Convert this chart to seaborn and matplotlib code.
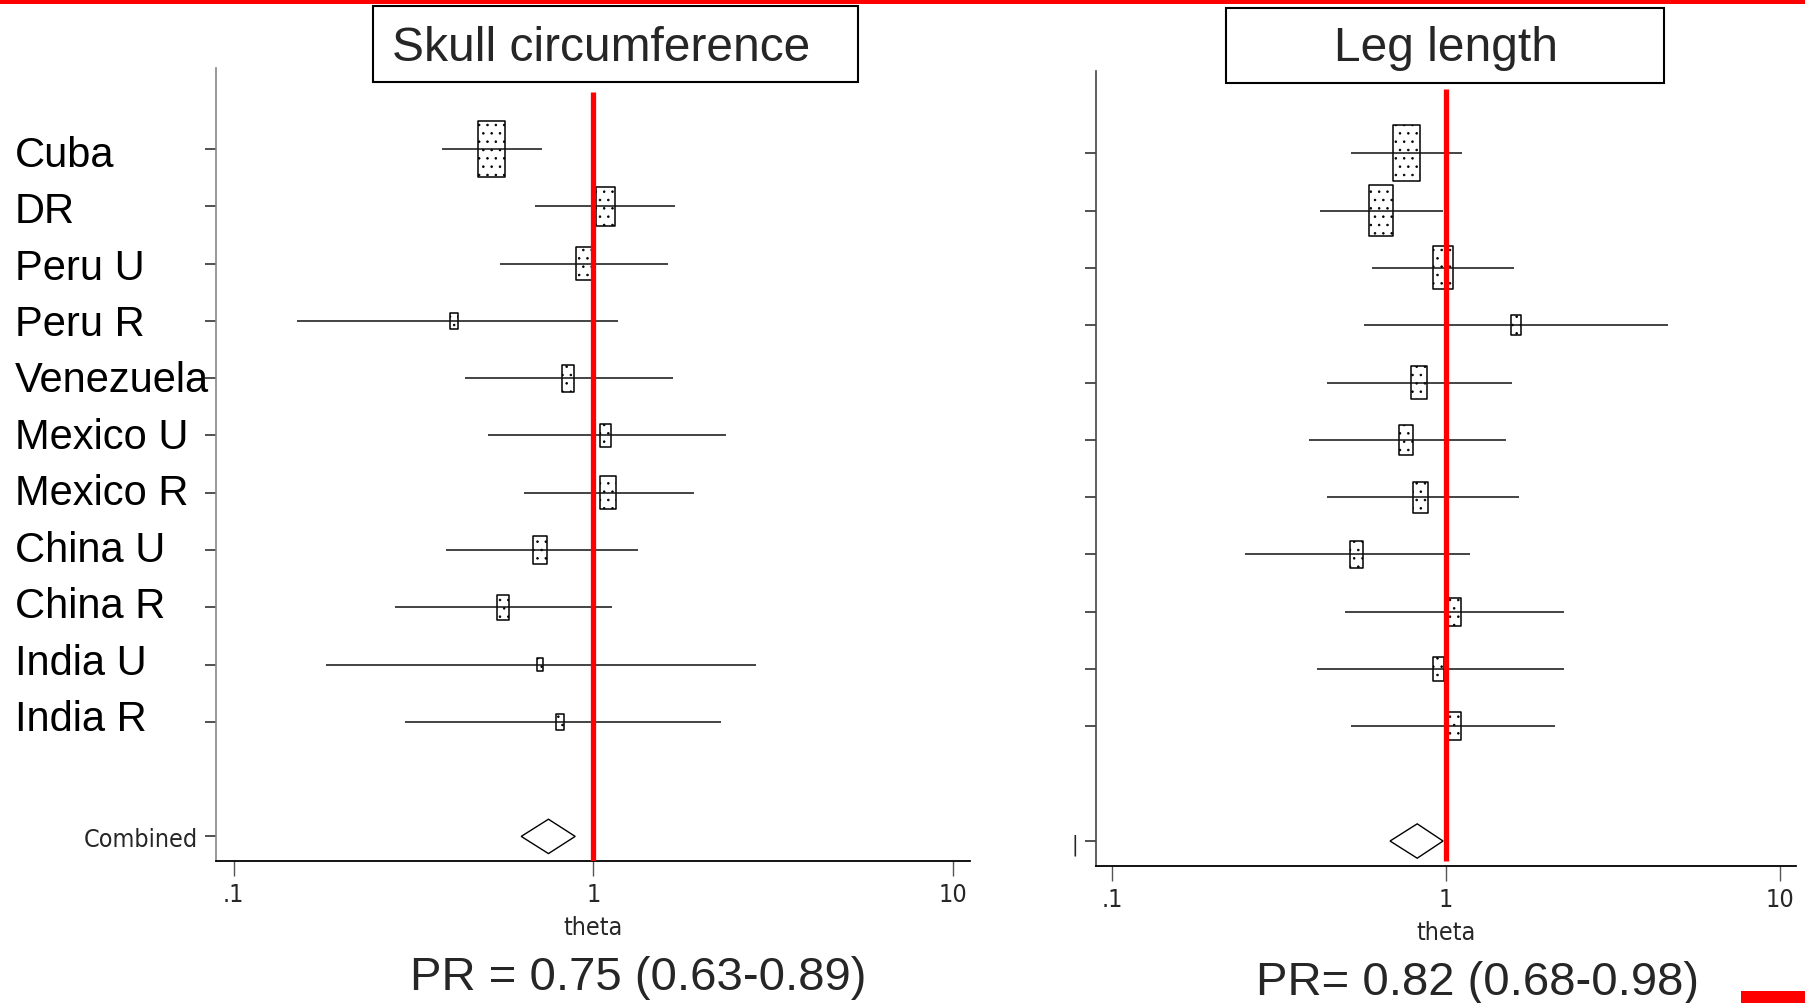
#!/usr/bin/env python
# Forest plots: skull circumference and leg length, pooled prevalence ratios

import numpy as np
import pandas as pd
import seaborn as sns
from matplotlib import pyplot as plt
from matplotlib.path import Path
from matplotlib.patches import Rectangle
import matplotlib.ticker as ticker
import matplotlib.transforms as mtransforms

# ---- data ----
studies = ["Cuba", "DR", "Peru U", "Peru R", "Venezuela", "Mexico U",
           "Mexico R", "China U", "China R", "India U", "India R"]

skull_est = [0.52, 1.08, 0.94, 0.41, 0.85, 1.08, 1.10, 0.71, 0.56, 0.71, 0.81]
skull_lo = [0.38, 0.69, 0.55, 0.15, 0.44, 0.51, 0.64, 0.39, 0.28, 0.18, 0.30]
skull_hi = [0.72, 1.69, 1.61, 1.17, 1.66, 2.34, 1.91, 1.33, 1.13, 2.83, 2.27]
skull_wt = [30.6, 15.1, 10.8, 2.6, 7.1, 5.0, 10.6, 7.8, 6.1, 1.5, 2.7]
skull_pooled = [0.75, 0.63, 0.89]

leg_est = [0.76, 0.64, 0.98, 1.62, 0.83, 0.76, 0.84, 0.54, 1.06, 0.95, 1.06]
leg_lo = [0.52, 0.42, 0.60, 0.57, 0.44, 0.39, 0.44, 0.25, 0.50, 0.41, 0.52]
leg_hi = [1.12, 0.98, 1.60, 4.63, 1.58, 1.51, 1.65, 1.18, 2.25, 2.26, 2.12]
leg_wt = [22.8, 18.7, 13.4, 2.8, 7.8, 6.7, 7.0, 5.2, 5.8, 4.3, 5.7]
leg_pooled = [0.82, 0.68, 0.98]

x_ticks = [0.1, 1, 10]
x_ticklabels = [".1", "1", "10"]

sns.set_theme(style="white")
plt.rcParams["font.family"] = ["Liberation Sans", "DejaVu Sans"]
plt.rcParams["hatch.linewidth"] = 0.6
plt.rcParams["hatch.color"] = "#222222"

# Stata's axis text is a narrow face; ask for a condensed one if present
NARROW = dict(fontfamily=["Liberation Sans Narrow", "DejaVu Sans"],
              fontstretch="condensed")

RED = "#ff0000"
COMBINED_ROW = 12

# tall rectangle marker (Stata weight boxes)
box_marker = Path([(-0.24, -0.5), (0.24, -0.5), (0.24, 0.5), (-0.24, 0.5), (-0.24, -0.5)],
                  [Path.MOVETO, Path.LINETO, Path.LINETO, Path.LINETO, Path.CLOSEPOLY])


def draw_panel(ax, est, lo, hi, wt, pooled, ylim, red_top, red_bottom, spine_col):
    df = pd.DataFrame({"row": np.arange(len(est)), "est": est, "lo": lo,
                       "hi": hi, "wt": wt})
    # box height ~40pt for the biggest weight, area proportional to weight
    sizes = 40.3 ** 2 * df["wt"] / df["wt"].max()

    sns.scatterplot(data=df, x="est", y="row", marker=box_marker, s=sizes,
                    color="white", edgecolor="black", linewidth=1.1,
                    hatch="..", legend=False, ax=ax, zorder=2)
    ax.hlines(df["row"], df["lo"], df["hi"], color="#111111", lw=1.1, zorder=3)

    p_est, p_lo, p_hi = pooled
    ax.fill([p_lo, p_est, p_hi, p_est],
            [COMBINED_ROW, COMBINED_ROW - 0.3, COMBINED_ROW, COMBINED_ROW + 0.3],
            facecolor="white", edgecolor="black", lw=1.0, zorder=3)

    ax.vlines(1, red_top, red_bottom, color=RED, lw=3.8, zorder=5)

    ax.set_xscale("log")
    ax.set_xlim(10 ** -1.048, 10 ** 1.048)
    ax.set_ylim(*ylim)
    ax.xaxis.set_minor_locator(ticker.NullLocator())
    ax.set_xticks(x_ticks)
    ax.set_xticklabels(x_ticklabels, fontsize=18, **NARROW)
    ax.set_xlabel("theta", fontsize=18, **NARROW)
    ax.xaxis.set_label_coords(0.5, -0.068)
    ax.set_ylabel("")

    ax.tick_params(axis="x", direction="out", length=11, width=1.0,
                   color="#555555", pad=4, bottom=True)
    ax.tick_params(axis="y", direction="out", length=8, width=1.2,
                   color="#333333", pad=5, left=True)

    for side in ["top", "right"]:
        ax.spines[side].set_visible(False)
    ax.spines["bottom"].set_color("black")
    ax.spines["bottom"].set_linewidth(1.3)
    ax.spines["left"].set_color(spine_col)
    ax.spines["left"].set_linewidth(1.2)


fig = plt.figure(figsize=(18.05, 10.04), dpi=100)

ax1 = fig.add_axes([0.1199, 0.1414, 0.4177, 0.7899])
ax2 = fig.add_axes([0.6072, 0.1365, 0.3878, 0.7918])

draw_panel(ax1, skull_est, skull_lo, skull_hi, skull_wt, skull_pooled,
           (12.43, -1.414), -1.0, 12.43, "#888888")
draw_panel(ax2, leg_est, leg_lo, leg_hi, leg_wt, leg_pooled,
           (12.435, -1.436), -1.12, 12.35, "#444444")

rows = list(range(len(studies))) + [COMBINED_ROW]
ax1.set_yticks(rows)
ax1.set_yticklabels([""] * len(studies) + ["Combined"], fontsize=18, **NARROW)
ax2.set_yticks(rows)
ax2.set_yticklabels([""] * len(studies) + ["|"], fontsize=16, **NARROW)

# study names on the far left (their spacing is a touch tighter than the rows)
trans = mtransforms.blended_transform_factory(fig.transFigure, ax1.transData)
for i, name in enumerate(studies):
    ax1.text(0.0083, 0.1 + 0.985 * i, name, transform=trans, ha="left",
             va="center", fontsize=30, color="black", zorder=6)

# title boxes
fig.patches.append(Rectangle((0.2066, 0.9173), 0.2685, 0.0757, transform=fig.transFigure,
                             fill=False, edgecolor="black", lw=1.5))
fig.text(0.333, 0.952, "Skull circumference", ha="center", va="center", fontsize=34.5)
fig.patches.append(Rectangle((0.6791, 0.9163), 0.2430, 0.0747, transform=fig.transFigure,
                             fill=False, edgecolor="black", lw=1.5))
fig.text(0.801, 0.952, "Leg length", ha="center", va="center", fontsize=34.5)

# pooled estimates under each panel
fig.text(0.3535, 0.0259, "PR = %.2f (%.2f-%.2f)" % tuple(skull_pooled),
         ha="center", va="center", fontsize=34)
fig.text(0.8188, 0.0209, "PR= %.2f (%.2f-%.2f)" % tuple(leg_pooled),
         ha="center", va="center", fontsize=34)

# slide decorations
fig.patches.append(Rectangle((0, 0.995), 1, 0.005, transform=fig.transFigure,
                             color=RED, lw=0))
fig.patches.append(Rectangle((0.9645, 0), 0.0355, 0.012, transform=fig.transFigure,
                             color=RED, lw=0))

fig.savefig("out.png", dpi=100)
